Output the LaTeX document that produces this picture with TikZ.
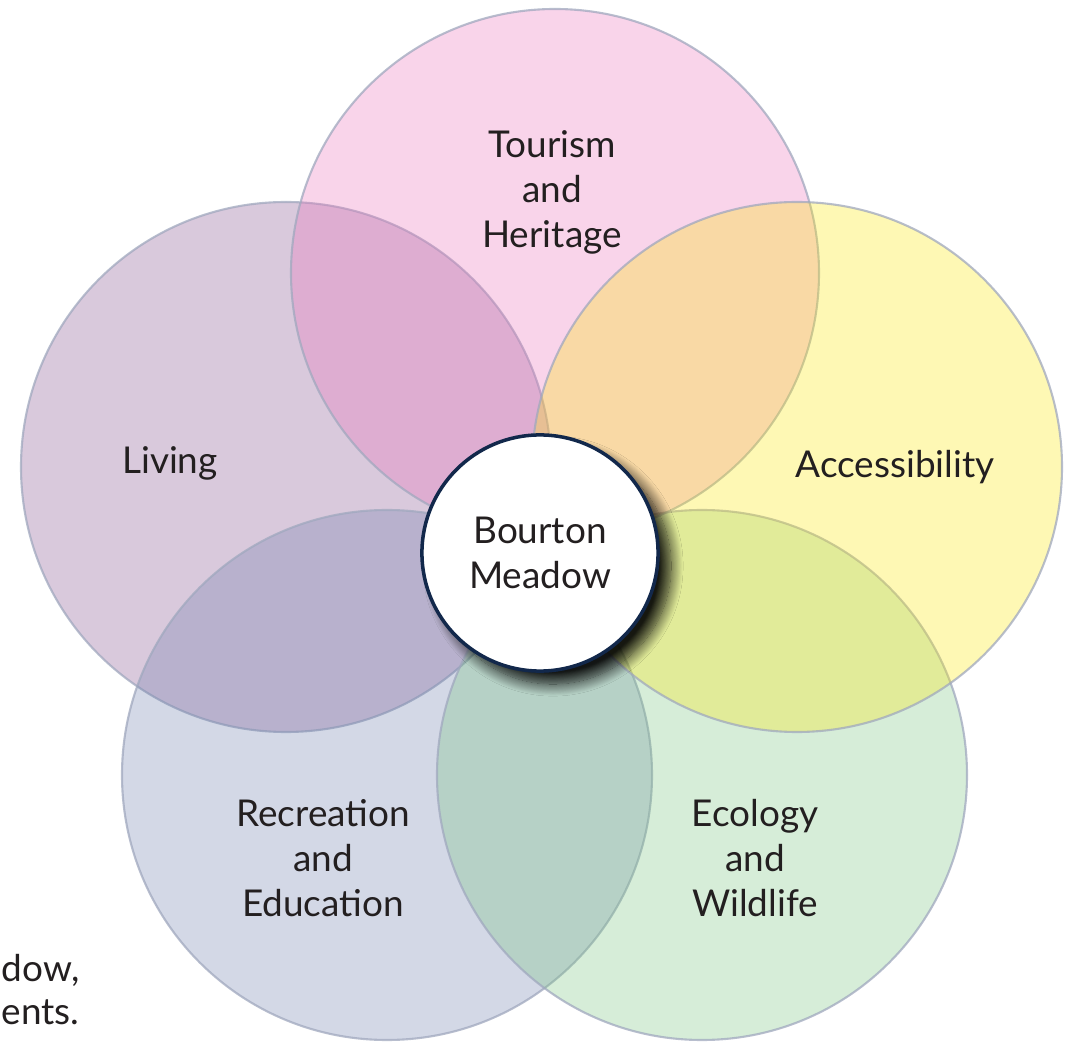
\documentclass[tikz,border=0pt]{standalone}
\usepackage{fontspec}
\setmainfont{Lato}
\usepackage{xcolor}
\usepackage{tikz}
\usetikzlibrary{shadows.blur}

\definecolor{tourismpink}{RGB}{235,112,185}
\definecolor{accessyellow}{RGB}{252,232,8}
\definecolor{livingplum}{RGB}{128,75,138}
\definecolor{recreationblue}{RGB}{108,125,172}
\definecolor{ecologygreen}{RGB}{118,195,125}
\definecolor{petaledge}{RGB}{160,168,190}
\definecolor{hubedge}{RGB}{18,40,75}
\definecolor{textgrey}{RGB}{35,31,32}

\tikzset{
  petal/.style={draw=petaledge, draw opacity=0.75, line width=0.6pt, fill opacity=0.3},
  petaltext/.style={align=center, text=textgrey, font=\fontsize{10.5}{12.8}\selectfont},
}

\begin{document}
\begin{tikzpicture}[x=0.01cm, y=-0.01cm]
\useasboundingbox (0,0) rectangle (1066,1043);
\filldraw[petal, fill=livingplum] (286,467) circle (265);
\filldraw[petal, fill=recreationblue] (387,775) circle (265);
\filldraw[petal, fill=ecologygreen] (702,775) circle (265);
\filldraw[petal, fill=tourismpink] (555,273) circle (264);
\filldraw[petal, fill=accessyellow] (797,467) circle (265);
\node (tourism) at (552,192) [petaltext] {Tourism\\and\\Heritage};
\node (living) at (170,463) [petaltext] {Living};
\node (access) at (895,467) [petaltext] {Accessibility};
\node (recreation) at (323,858) [petaltext] {Recreation\\and\\Education};
\node (ecology) at (755,858) [petaltext] {Ecology\\and\\Wildlife};
\node (hub) at (540,553) [circle, minimum size=2.36cm, inner sep=0pt, fill=white, draw=hubedge, line width=1pt,
  blur shadow={shadow xshift=1.3mm, shadow yshift=-1.3mm, shadow opacity=90, shadow blur radius=1.2mm, shadow blur steps=16},
  petaltext] {Bourton\\Meadow};
\node (notea) at (1,970) [anchor=west, inner sep=0pt, petaltext] {dow,};
\node (noteb) at (1,1012) [anchor=west, inner sep=0pt, petaltext] {ents.};
\end{tikzpicture}
\end{document}
